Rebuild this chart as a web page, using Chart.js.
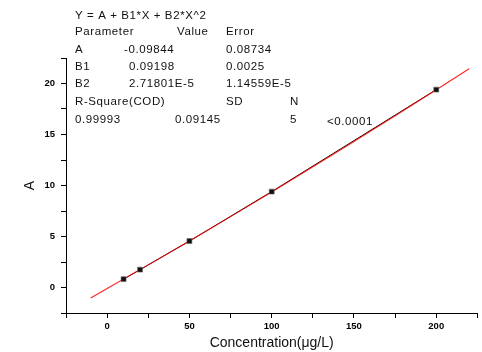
<!DOCTYPE html>
<html>
<head>
<meta charset="utf-8">
<script src="https://cdn.jsdelivr.net/npm/chart.js@4.4.1/dist/chart.umd.min.js"></script>
<style>
  html, body { margin: 0; padding: 0; background: #fff; }
  #wrap { width: 482px; height: 352px; }
</style>
</head>
<body>
<div id="wrap"><canvas id="fit-chart" width="482" height="352"></canvas></div>
<script>
"use strict";

// measured points
const concentration = [10, 20, 50, 100, 200];
const absorbance = [0.82, 1.75, 4.55, 9.4, 19.4];

// fitted curve
const fitX = [-10, 0, 50, 100, 150, 200, 220];
const fitY = [-1.02, -0.1, 4.55, 9.37, 14.31, 19.38, 21.45];

// ticks (minor every half step, labels only on majors)
const xTickValues = [-25, 0, 25, 50, 75, 100, 125, 150, 175, 200, 225];
const xTickLabels = [0, 50, 100, 150, 200];
const yTickValues = [-2.5, 0, 2.5, 5, 7.5, 10, 12.5, 15, 17.5, 20, 22.5];
const yTickLabels = [0, 5, 10, 15, 20];

// fit report block: [text, x, y]
const reportLines = [
  ["Y = A + B1*X + B2*X^2", 75, 16],
  ["Parameter", 75, 32],
  ["Value", 177, 32],
  ["Error", 226, 32],
  ["A", 75, 50],
  ["-0.09844", 124, 50],
  ["0.08734", 226, 50],
  ["B1", 75, 67],
  ["0.09198", 129, 67],
  ["0.0025", 226, 67],
  ["B2", 75, 84],
  ["2.71801E-5", 129, 84],
  ["1.14559E-5", 226, 84],
  ["R-Square(COD)", 75, 102],
  ["SD", 226, 102],
  ["N", 290, 102],
  ["0.99993", 75, 120],
  ["0.09145", 175, 120],
  ["5", 290, 120],
  ["<0.0001", 327, 122],
];

const FONT = "'Liberation Sans', Arial, sans-serif";

const reportPlugin = {
  id: "report",
  afterDraw(chart) {
    const ctx = chart.ctx;
    ctx.save();
    ctx.fillStyle = "#111";
    ctx.font = "11.5px " + FONT;
    ctx.textBaseline = "middle";
    ctx.textAlign = "left";
    if ("letterSpacing" in ctx) ctx.letterSpacing = "0.6px";
    reportLines.forEach(([t, x, y]) => ctx.fillText(t, x, y));
    ctx.restore();
  },
};

function fixedTicks(values) {
  return (scale) => {
    scale.ticks = values.map((v) => ({ value: v }));
  };
}

const measured = concentration.map((x, i) => ({ x, y: absorbance[i] }));

new Chart(document.getElementById("fit-chart"), {
  type: "scatter",
  data: {
    datasets: [
      {
        // squares on top
        label: "points",
        data: measured,
        order: 0,
        backgroundColor: "#111",
        pointStyle: "rect",
        pointRadius: 3.5,
        pointBorderColor: "#666",
        pointBorderWidth: 0.6,
      },
      {
        label: "fit",
        data: fitX.map((x, i) => ({ x, y: fitY[i] })),
        order: 1,
        showLine: true,
        borderColor: "rgba(255,0,0,0.85)",
        borderWidth: 1.1,
        pointRadius: 0,
        tension: 0.3,
      },
      {
        // connecting line under the fit
        label: "data",
        data: measured,
        order: 2,
        showLine: true,
        borderColor: "#000",
        borderWidth: 1,
        pointRadius: 0,
      },
    ],
  },
  options: {
    responsive: false,
    animation: false,
    layout: { padding: { top: 58, right: 0, left: 22, bottom: 0 } },
    plugins: { legend: { display: false }, tooltip: { enabled: false } },
    scales: {
      x: {
        type: "linear",
        min: -25,
        max: 225,
        afterBuildTicks: fixedTicks(xTickValues),
        afterFit: (s) => { s.height = 39; },
        border: { color: "#000", width: 1 },
        grid: { drawOnChartArea: false, drawTicks: true, tickLength: 5, tickColor: "#000" },
        ticks: {
          color: "#000",
          font: { family: FONT, size: 9.5, weight: "bold" },
          padding: 3,
          maxRotation: 0,
          autoSkip: false,
          callback: (v) => (xTickLabels.includes(v) ? String(v) : ""),
        },
        title: {
          display: true,
          text: "Concentration(μg/L)",
          color: "#111",
          font: { family: FONT, size: 14 },
          padding: { top: 0, bottom: 0 },
        },
      },
      y: {
        type: "linear",
        min: -2.5,
        max: 22.5,
        afterBuildTicks: fixedTicks(yTickValues),
        afterFit: (s) => { s.width = 44; },
        border: { color: "#000", width: 1 },
        grid: { drawOnChartArea: false, drawTicks: true, tickLength: 5, tickColor: "#000" },
        ticks: {
          color: "#000",
          font: { family: FONT, size: 9.5, weight: "bold" },
          padding: 6,
          autoSkip: false,
          callback: (v) => (yTickLabels.includes(v) ? String(v) : ""),
        },
        title: {
          display: true,
          text: "A",
          color: "#111",
          font: { family: FONT, size: 14 },
          padding: { top: 0, bottom: 0 },
        },
      },
    },
  },
  plugins: [reportPlugin],
});
</script>
</body>
</html>
